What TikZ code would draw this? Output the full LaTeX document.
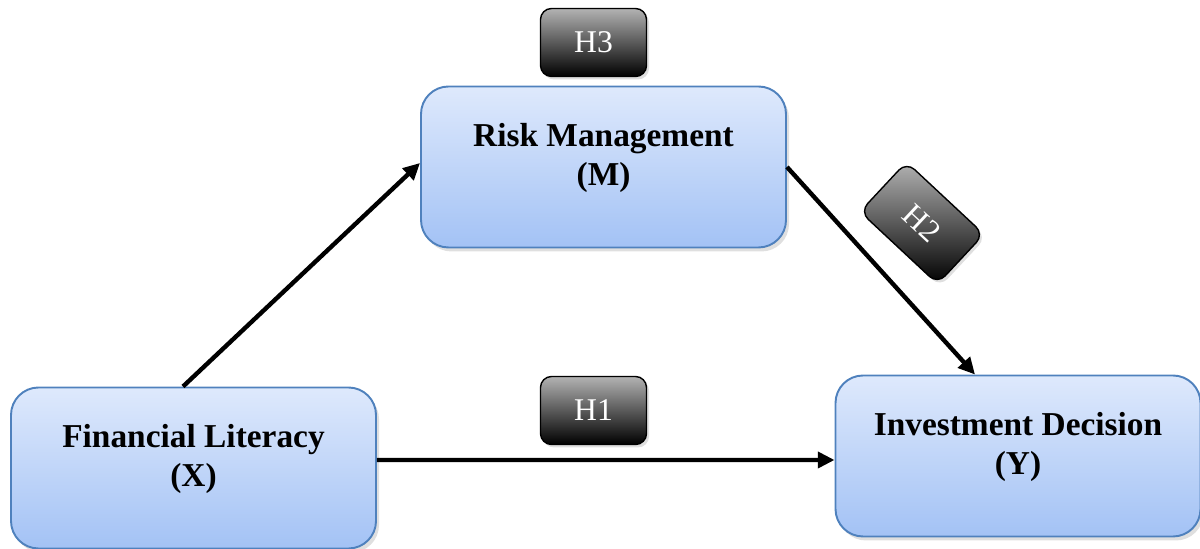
\documentclass[tikz,border=0pt]{standalone}
\usepackage{fontspec}
\setmainfont{Liberation Serif}
\usetikzlibrary{arrows.meta,positioning,shadows,calc}

\definecolor{boxtop}{RGB}{222,233,252}
\definecolor{boxbottom}{RGB}{163,194,245}
\definecolor{boxline}{RGB}{79,129,189}

\begin{document}
\begin{tikzpicture}[on grid,auto]
            \tikzstyle{var}=[draw=boxline, line width=1.1pt, rounded corners=0.55cm,
                top color=boxtop, bottom color=boxbottom,
                drop shadow={opacity=0.25, shadow xshift=0.06cm, shadow yshift=-0.08cm},
                minimum width=7.3cm, minimum height=3.22cm, align=center,
                text depth=0.5cm, font=\fontsize{19}{22}\selectfont\bfseries]
            \tikzstyle{hyp}=[draw=black, line width=0.8pt, rounded corners=0.22cm,
                top color=black!30, bottom color=black, text=white,
                drop shadow={opacity=0.25, shadow xshift=0.05cm, shadow yshift=-0.06cm},
                minimum width=2.12cm, minimum height=1.36cm,
                font=\fontsize{18}{21}\selectfont]
            \tikzstyle{link}=[line width=2.5pt, -{Triangle[length=9.5pt,width=9pt]}]

            \useasboundingbox (0,0) rectangle (24,10.98);

            \node[var] (fin)  at (3.87,1.62)                            {Financial Literacy\\(X)};
            \node[var] (risk) [above right=6.02cm and 8.2cm of fin]     {Risk Management\\(M)};
            \node[var] (inv)  [right=16.49cm of fin, yshift=0.24cm]     {Investment Decision\\(Y)};

            \node[hyp] (h3) [above left=2.49cm and 0.2cm of risk]       {H3};
            \node[hyp] (h1) [below left=4.87cm and 0.2cm of risk]       {H1};
            \node[hyp, rotate=-43] (h2) [below right=1.12cm and 6.37cm of risk] {H2};

            \path[link]
                ($(fin.north)+(-0.21,0)$) edge ($(risk.west)+(0,0.08)$)
                (risk.east) edge ($(inv.north)+(-0.86,0)$)
                ($(fin.east)+(0,0.16)$) edge ($(inv.west)+(0,-0.08)$)
                ;
        \end{tikzpicture}
\end{document}
